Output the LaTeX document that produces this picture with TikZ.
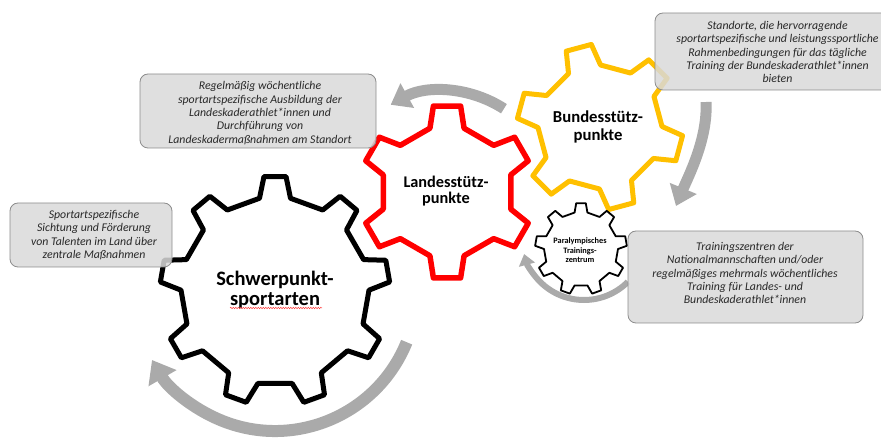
\documentclass[tikz,border=0pt]{standalone}
\usepackage{fontspec}
\setmainfont{Carlito}
\usetikzlibrary{arrows.meta,decorations.pathmorphing}
\definecolor{arrowgray}{RGB}{170,170,170}
\definecolor{boxfill}{RGB}{217,217,217}
\definecolor{boxline}{RGB}{140,140,140}
\definecolor{boxtext}{RGB}{40,40,40}
\definecolor{gold}{RGB}{255,192,0}
\tikzset{
  pics/gear/.style args={#1/#2/#3/#4/#5/#6}{code={
    \path[pic actions] ({#2-180/#1}:{#4*cos(180/#1-#6)})
      \foreach \k in {1,...,#1}{
        -- ({#2+(\k-1)*360/#1-#6}:#4)
        -- ({#2+(\k-1)*360/#1-#5}:#3)
        -- ({#2+(\k-1)*360/#1+#5}:#3)
        -- ({#2+(\k-1)*360/#1+#6}:#4)
      } -- cycle;
  }},
  band/.style={draw=arrowgray, line width=#1},
  gbox/.style={draw=boxline, line width=0.8pt, fill=boxfill, fill opacity=0.85,
    rounded corners=8pt, inner sep=0pt},
  btext/.style={text=boxtext, font=\fontsize{11.8}{13.4}\selectfont\itshape, align=center, inner sep=0pt},
  glabel/.style={text=black, align=center, inner sep=0pt},
}
\begin{document}
\begin{tikzpicture}[x=1pt,y=1pt]
\useasboundingbox (0,0) rectangle (881,439);
\clip (0,0) rectangle (881,439);

% grey rotation arrows
\coordinate (a1s) at ([shift={(444,238)}]57:110);
\draw[band=11pt, -{Triangle[width=27pt,length=19pt]}] (a1s) arc[start angle=57, end angle=119, radius=110];

\coordinate (a2s) at (706,337);
\coordinate (a2e) at (676,233);
\draw[band=11pt, -{Triangle[width=28pt,length=19pt]}] (a2s) .. controls (708,300) and (688,262) .. (a2e);

\coordinate (a3s) at ([shift={(584,201)}]-45:62);
\draw[band=6pt, -{Triangle[width=16pt,length=11pt]}] (a3s) arc[start angle=-45, end angle=-165, radius=62];

\coordinate (a4s) at ([shift={(275,150)}]-22:142);
\draw[band=12pt, -{Triangle[width=31pt,length=21pt]}] (a4s) arc[start angle=-22, end angle=-150, radius=142];

% gears
\pic[draw=black, fill=white, line width=5pt, line join=round] (bigg) at (275,148) {gear=9/90/115/94/5.5/9.5};
\pic[draw=red, fill=white, line width=5.5pt, line join=round] (redg) at (447,247) {gear=6/90/87/66/9/15};
\pic[draw=gold, fill=white, line width=5pt, line join=round] (yelg) at (600,312) {gear=6/105/83/62/9/15.5};
\pic[draw=black, fill=white, line width=1.8pt, line join=round] (smallg) at (581,190) {gear=9/90/46/37/6/10};

% gear labels
\node[glabel, font=\fontsize{20.5}{20}\selectfont\bfseries] (schwer) at (275,149) {Schwerpunkt-\\sportarten};
\draw[red!75!white, line width=0.5pt, decorate, decoration={snake, amplitude=0.7pt, segment length=2.5pt}] (230,131) -- (322,131);
\node[glabel, font=\fontsize{16.3}{16.5}\selectfont\bfseries] (landes) at (446,248) {Landesstütz-\\punkte};
\node[glabel, font=\fontsize{16.7}{18}\selectfont\bfseries] (bundes) at (598,312) {Bundesstütz-\\punkte};
\node[glabel, font=\fontsize{8.3}{9.5}\selectfont\bfseries] (para) at (580,188.5) {Paralympisches\\Trainings-\\zentrum};

% text boxes
\node[gbox, minimum width=236pt, minimum height=74pt] (box1) at (258,328) {};
\node[btext] (txt1) at (260,326) {Regelmäßig wöchentliche\\sportartspezifische Ausbildung der\\Landeskaderathlet*innen und\\Durchführung von\\Landeskadermaßnahmen am Standort};

\node[gbox, minimum width=245pt, minimum height=77pt] (box2) at (777.5,387.5) {};
\node[btext] (txt2) at (777.5,387) {Standorte, die hervorragende\\sportartspezifische und leistungssportliche\\Rahmenbedingungen für das tägliche\\Training der Bundeskaderathlet*innen\\bieten};

\node[gbox, minimum width=162pt, minimum height=64pt] (box3) at (91,204) {};
\node[btext] (txt3) at (94,204) {Sportartspezifische\\Sichtung und Förderung\\von Talenten im Land über\\zentrale Maßnahmen};

\node[gbox, minimum width=235pt, minimum height=92pt] (box4) at (745.5,162) {};
\node[btext] (txt4) at (745,166) {Trainingszentren der\\Nationalmannschaften und/oder\\regelmäßiges mehrmals wöchentliches\\Training für Landes- und\\Bundeskaderathlet*innen};
\end{tikzpicture}
\end{document}
